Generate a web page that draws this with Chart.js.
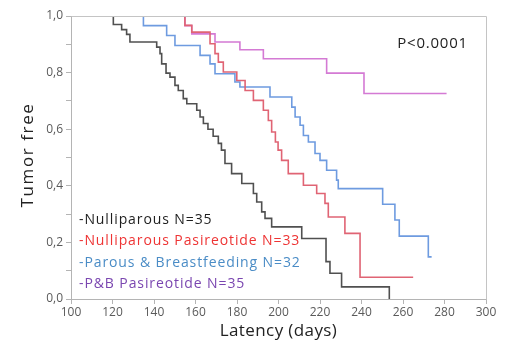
<!DOCTYPE html>
<html>
<head>
<meta charset="utf-8">
<script src="https://cdn.jsdelivr.net/npm/chart.js@4/dist/chart.umd.min.js"></script>
<style>
html,body{margin:0;padding:0;background:#fff;}
#wrap{width:508px;height:348px;position:relative;}
</style>
</head>
<body>
<div id="wrap"><canvas id="c" width="508" height="348"></canvas></div>
<script>
// Kaplan-Meier step data (day, fraction tumor free after event)
const nulliDays   = [120.4,120.4,124.4,126.8,128.4,141.3,142.9,143.7,145.8,147.7,150.1,151.7,154.1,155.8,160.6,162.2,163.8,166.0,168.5,171.0,172.5,174.2,177.4,182.3,187.9,189.5,191.9,193.5,196.7,211.2,222.9,224.8,230.4,253.4];
const nulliVals   = [1.0,0.970,0.952,0.935,0.908,0.890,0.867,0.831,0.798,0.784,0.755,0.737,0.708,0.690,0.667,0.643,0.620,0.600,0.575,0.550,0.526,0.479,0.443,0.408,0.373,0.343,0.308,0.285,0.255,0.214,0.132,0.091,0.043,0.0];

const nulliPasDays = [154.9,154.9,158.2,167.0,169.4,171.0,173.4,179.9,183.9,187.9,192.7,195.1,196.7,198.5,199.8,201.5,204.7,212.0,218.4,222.4,224.0,232.0,239.3,264.9];
const nulliPasVals = [1.0,0.967,0.943,0.902,0.867,0.837,0.802,0.772,0.737,0.702,0.667,0.631,0.590,0.555,0.526,0.490,0.443,0.402,0.373,0.338,0.290,0.232,0.077,0.077];

const parousDays  = [134.9,134.9,146.1,150.1,162.2,167.0,169.4,179.0,181.4,195.9,206.4,208.0,210.4,212.0,214.4,217.6,220.0,223.2,228.0,228.8,250.2,256.1,258.2,272.2,273.8];
const parousVals  = [1.0,0.966,0.931,0.896,0.861,0.831,0.796,0.767,0.749,0.714,0.678,0.643,0.614,0.578,0.555,0.514,0.490,0.455,0.420,0.390,0.335,0.279,0.222,0.149,0.149];

const pbPasDays   = [154.9,154.9,158.2,169.4,181.4,192.7,223.2,241.2,281.0];
const pbPasVals   = [1.0,0.966,0.937,0.908,0.881,0.849,0.798,0.726,0.726];

const seriesNames = ['-Nulliparous N=35','-Nulliparous Pasireotide N=33','-Parous & Breastfeeding N=32','-P&B Pasireotide N=35'];
const yTickLabels = ['0,0','0,2','0,4','0,6','0,8','1,0'];
const xTickValues = [100,120,140,160,180,200,220,240,260,280,300];

const lineColors = ['#505050','#e06474','#6e9be0','#d47ad4'];
const textColors = ['#1e1e1e','#ee3434','#4a8cc6','#7a46b0'];

function pts(d,v){return d.map((x,i)=>({x:x,y:v[i]}));}

const frameAndText = {
  id:'frameAndText',
  afterDraw(chart){
    const ctx=chart.ctx, a=chart.chartArea;
    ctx.save();
    ctx.strokeStyle='#c4c4c4'; ctx.lineWidth=1;
    ctx.beginPath();
    ctx.moveTo(a.left+0.5,a.top+0.5); ctx.lineTo(a.right+0.5,a.top+0.5); ctx.lineTo(a.right+0.5,a.bottom+0.5);
    ctx.stroke();
    ctx.fillStyle='#1e1e1e';
    ctx.textAlign='right'; ctx.textBaseline='middle';
    ctx.font='15px "Open Sans"'; ctx.letterSpacing='0.8px';
    ctx.fillText('P<0.0001', a.right-18, a.top+28);
    ctx.textAlign='left';
    ctx.font='14px "Open Sans"'; ctx.letterSpacing='0.9px';
    const ys=[220,241,263,284];
    seriesNames.forEach((s,i)=>{ctx.fillStyle=textColors[i]; ctx.fillText(s, a.left+8, ys[i]);});
    // axis titles
    ctx.fillStyle='#222';
    ctx.textAlign='center';
    ctx.font='17px "Open Sans"'; ctx.letterSpacing='0.4px';
    ctx.fillText('Latency (days)', (a.left+a.right)/2, 331);
    ctx.translate(28,155); ctx.rotate(-Math.PI/2);
    ctx.font='17px "Open Sans"'; ctx.letterSpacing='1.6px';
    ctx.fillText('Tumor free', 0, 0);
    ctx.restore();
  }
};

new Chart(document.getElementById('c'),{
  type:'line',
  data:{datasets:[
    {label:seriesNames[0],data:pts(nulliDays,nulliVals),borderColor:lineColors[0]},
    {label:seriesNames[1],data:pts(nulliPasDays,nulliPasVals),borderColor:lineColors[1]},
    {label:seriesNames[2],data:pts(parousDays,parousVals),borderColor:lineColors[2]},
    {label:seriesNames[3],data:pts(pbPasDays,pbPasVals),borderColor:lineColors[3]}
  ].map(d=>Object.assign(d,{stepped:true,borderWidth:1.6,pointRadius:0,fill:false,tension:0}))},
  options:{
    responsive:false,animation:false,
    layout:{padding:{top:16,right:22,left:0,bottom:0}},
    plugins:{legend:{display:false},tooltip:{enabled:false}},
    scales:{
      x:{type:'linear',min:100,max:300,
        afterBuildTicks(s){s.ticks=xTickValues.map(v=>({value:v}));},
        afterFit(s){s.height=49;},
        grid:{drawOnChartArea:false,tickLength:5,tickColor:'#b4b4b4'},
        border:{display:true,color:'#b4b4b4'},
        ticks:{color:'#5a5a5a',font:{family:'"Open Sans"',size:12},padding:1,maxRotation:0,autoSkip:false},
        title:{display:false}
      },
      y:{type:'linear',min:0,max:1,
        afterBuildTicks(s){const t=[];for(let i=0;i<=10;i++)t.push({value:i/10});s.ticks=t;},
        afterFit(s){s.width=71;},
        grid:{drawOnChartArea:false,tickLength:5,tickColor:'#b4b4b4'},
        border:{display:true,color:'#b4b4b4'},
        ticks:{color:'#5a5a5a',font:{family:'"Open Sans"',size:12},padding:3,autoSkip:false,
          callback(v){const k=Math.round(v*10);return k%2?'':yTickLabels[k/2];}},
        title:{display:false}
      }
    }
  },
  plugins:[frameAndText]
});
</script>
</body>
</html>
